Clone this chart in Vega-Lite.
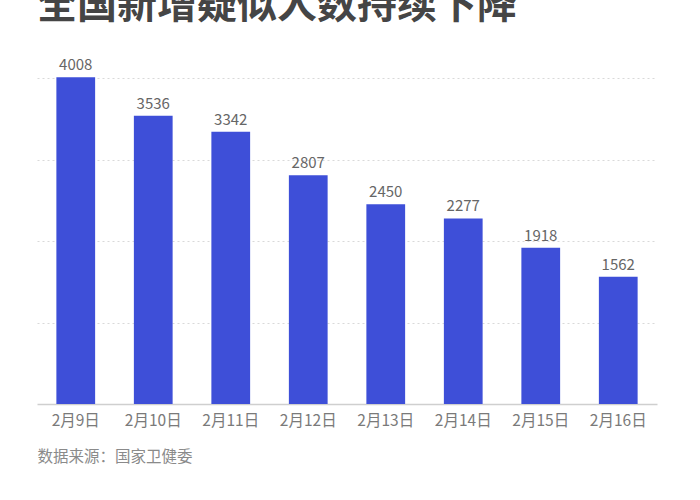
{
  "$schema": "https://vega.github.io/schema/vega-lite/v6.json",
  "width": 620,
  "height": 326,
  "autosize": {"type": "none"},
  "padding": {"left": 37, "top": 78, "right": 43, "bottom": 96},
  "background": "#ffffff",
  "config": {"view": {"stroke": null}, "font": "Noto Sans CJK SC"},
  "title": {
    "text": "全国新增疑似人数持续下降",
    "anchor": "start",
    "frame": "group",
    "font": "Noto Sans CJK SC",
    "fontSize": 40,
    "fontWeight": "bold",
    "color": "#454545",
    "baseline": "alphabetic",
    "offset": 0
  },
  "data": {
    "values": [
      {"date": "2月9日", "count": 4008},
      {"date": "2月10日", "count": 3536},
      {"date": "2月11日", "count": 3342},
      {"date": "2月12日", "count": 2807},
      {"date": "2月13日", "count": 2450},
      {"date": "2月14日", "count": 2277},
      {"date": "2月15日", "count": 1918},
      {"date": "2月16日", "count": 1562}
    ]
  },
  "encoding": {
    "x": {
      "field": "date",
      "type": "nominal",
      "sort": null,
      "scale": {"paddingInner": 0.5, "paddingOuter": 0.25},
      "axis": {
        "title": "数据来源：国家卫健委",
        "titleAnchor": "start",
        "titleAlign": "left",
        "titleFontSize": 15.5,
        "titleFontWeight": "normal",
        "titleColor": "#8a8a8a",
        "titlePadding": 21,
        "labelAngle": 0,
        "labelFontSize": 15.5,
        "labelColor": "#7a7a7a",
        "labelPadding": 9,
        "ticks": false,
        "domainColor": "#cfcfcf",
        "domainWidth": 1.5
      }
    },
    "y": {
      "field": "count",
      "type": "quantitative",
      "scale": {"domain": [0, 4000], "nice": false},
      "axis": {
        "title": null,
        "labels": false,
        "ticks": false,
        "domain": false,
        "values": [1000, 2000, 3000, 4000],
        "gridColor": "#d9d9d9",
        "gridDash": [2, 3],
        "gridWidth": 1
      }
    }
  },
  "layer": [
    {"mark": {"type": "bar", "color": "#3e4fd8", "clip": false}},
    {
      "mark": {
        "type": "text",
        "baseline": "alphabetic",
        "dy": -7,
        "fontSize": 15,
        "color": "#666666"
      },
      "encoding": {"text": {"field": "count", "type": "quantitative", "format": "d"}}
    }
  ]
}
